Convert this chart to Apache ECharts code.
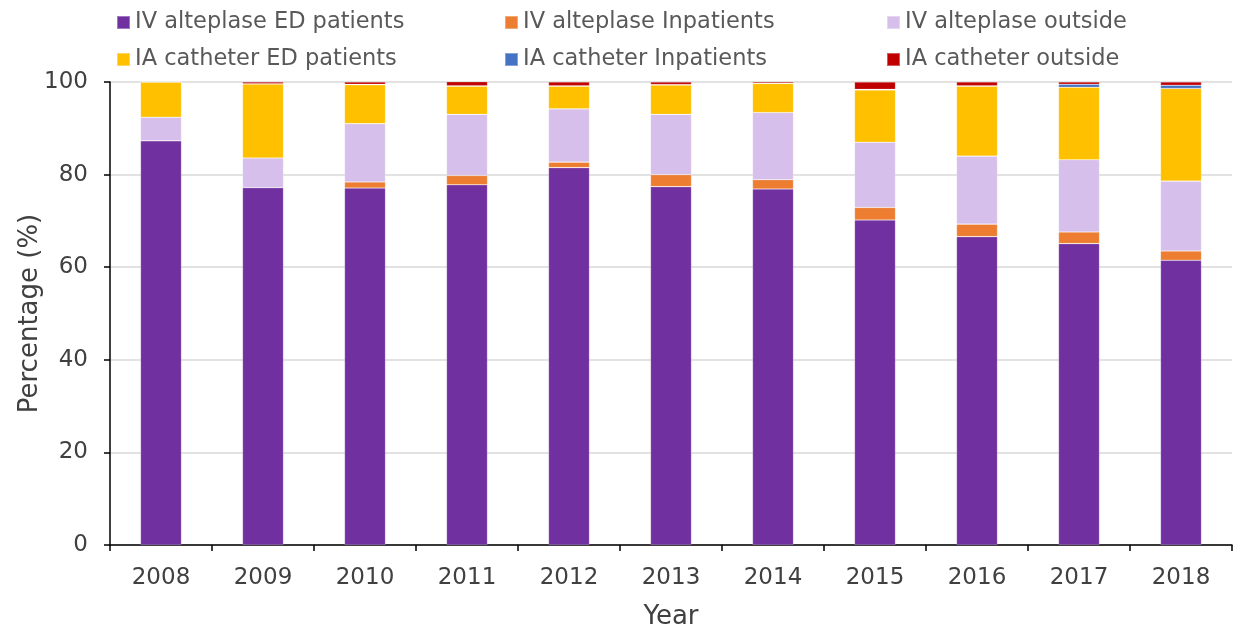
<!DOCTYPE html>
<html>
<head>
<meta charset="utf-8">
<script src="https://cdn.jsdelivr.net/npm/echarts@6/dist/echarts.min.js"></script>
<style>
  html,body{margin:0;padding:0;background:#fff;}
  #chart{width:1233px;height:628px;}
</style>
</head>
<body>
<div id="chart"></div>
<script>
// data (percent of patients)
var years = ['2008','2009','2010','2011','2012','2013','2014','2015','2016','2017','2018'];
var ivEd      = [87.3, 77.2, 77.1, 77.8, 81.5, 77.4, 76.9, 70.2, 66.6, 65.1, 61.5];
var ivInp     = [0,    0,    1.3,  2.0,  1.2,  2.6,  2.0,  2.7,  2.7,  2.5,  2.0];
var ivOut     = [5.1,  6.4,  12.6, 13.2, 11.5, 13.0, 14.5, 14.1, 14.7, 15.6, 15.1];
var iaEd      = [7.6,  16.0, 8.4,  6.1,  4.9,  6.35, 6.3,  11.3, 15.1, 15.65, 20.0];
var iaInp     = [0,    0,    0.1,  0.1,  0.1,  0.1,  0,    0.1,  0.1,  0.65, 0.7];
var iaOut     = [0,    0.4,  0.5,  0.9,  0.8,  0.55, 0.3,  1.6,  0.8,  0.5,  0.7];
var yTicks = [0, 20, 40, 60, 80, 100];

var names = ['IV alteplase ED patients','IV alteplase Inpatients','IV alteplase outside',
             'IA catheter ED patients','IA catheter Inpatients','IA catheter outside'];
var colors = ['#7030A0','#ED7D31','#D6BFEA','#FFC000','#4472C4','#C00000'];
var values = [ivEd, ivInp, ivOut, iaEd, iaInp, iaOut];

var font = 'DejaVu Sans';
var myChart = echarts.init(document.getElementById('chart'));

function legendCol(left, items){
    return {
        orient:'vertical',
        left:left, top:6,
        itemWidth:13, itemHeight:13,
        itemGap:14,
        icon:'rect',
        data:items,
        textStyle:{fontFamily:font, fontSize:22.5, color:'#595959', lineHeight:22}
    };
}

var series = [];
for(var i=0; i<names.length; i++){
    series.push({
        name:names[i],
        type:'bar',
        stack:'all',
        barWidth:41,
        itemStyle:{color:colors[i], borderColor:'rgba(255,255,255,0.35)', borderWidth:0.6},
        data:values[i]
    });
}

var option = {
    animation:false,
    color:colors,
    legend:[
        legendCol(111, [names[0], names[3]]),
        legendCol(499, [names[1], names[4]]),
        legendCol(881, [names[2], names[5]])
    ],
    grid:{left:110, right:1, top:82, bottom:83, outerBoundsMode:'none', containLabel:false},
    xAxis:{
        type:'category',
        data:years,
        name:'Year',
        nameLocation:'middle',
        nameGap:59,
        nameMoveOverlap:false,
        nameTextStyle:{fontFamily:font, fontSize:26, color:'#404040'},
        axisLine:{lineStyle:{color:'#000', width:1.5}},
        axisTick:{show:true, length:6, lineStyle:{color:'#000', width:1.5}},
        axisLabel:{fontFamily:font, fontSize:23, color:'#404040', margin:22}
    },
    yAxis:{
        type:'value',
        min:0, max:100, interval:20,
        name:'Percentage (%)',
        nameLocation:'middle',
        nameGap:67,
        nameMoveOverlap:false,
        nameTextStyle:{fontFamily:font, fontSize:26, color:'#404040'},
        axisLine:{show:true, lineStyle:{color:'#000', width:1.5}},
        axisTick:{show:true, length:6, lineStyle:{color:'#000', width:1.5}},
        axisLabel:{fontFamily:font, fontSize:23, color:'#404040', margin:22,
            formatter:function(v){ return yTicks.indexOf(v) >= 0 ? String(v) : ''; }},
        splitLine:{lineStyle:{color:'#d9d9d9', width:1.5}}
    },
    series:series
};

myChart.setOption(option);
</script>
</body>
</html>
